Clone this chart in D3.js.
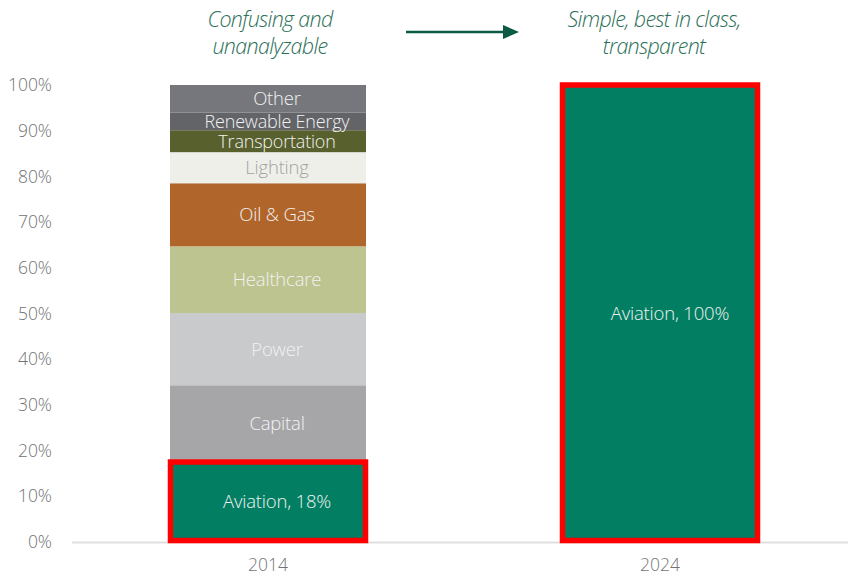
<!DOCTYPE html>
<html>
<head>
<meta charset="utf-8">
<script src="https://cdn.jsdelivr.net/npm/d3@7"></script>
<style>
  body { margin: 0; background: #fff; }
  text { font-family: "Open Sans", "Noto Sans", sans-serif; font-weight: 300; }
</style>
</head>
<body>
<div id="chart"></div>
<script>
// data
var years = ["2014", "2024"];
var segments2014 = ["Aviation", "Capital", "Power", "Healthcare", "Oil & Gas", "Lighting", "Transportation", "Renewable Energy", "Other"];
var values2014 = [17.5, 16.8, 15.8, 14.6, 13.8, 6.8, 4.8, 3.9, 6.0];
var labels2014 = ["Aviation, 18%", "Capital", "Power", "Healthcare", "Oil & Gas", "Lighting", "Transportation", "Renewable Energy", "Other"];
var segments2024 = ["Aviation"];
var values2024 = [100];
var labels2024 = ["Aviation, 100%"];
var yTicks = [0, 10, 20, 30, 40, 50, 60, 70, 80, 90, 100];
var captions = [["Confusing and", "unanalyzable"], ["Simple, best in class,", "transparent"]];

var width = 848;
var height = 577;
var margin = { top: 85, right: 0, bottom: 35, left: 72 };

var colors = d3.scaleOrdinal()
  .domain(["Aviation", "Capital", "Power", "Healthcare", "Oil & Gas", "Lighting", "Transportation", "Renewable Energy", "Other"])
  .range(["#027f62", "#a6a6a8", "#c9cacc", "#bec48f", "#b0652a", "#efefea", "#58602d", "#636468", "#76777c"]);

var svg = d3.select("#chart")
  .append("svg")
  .attr("width", width)
  .attr("height", height);

var x = d3.scaleBand()
  .domain(years)
  .range([margin.left, 856])
  .paddingInner(0.5)
  .paddingOuter(0.25);

var y = d3.scaleLinear()
  .domain([0, 100])
  .range([height - margin.bottom, margin.top]);

// y axis labels only
svg.append("g")
  .attr("transform", "translate(" + (margin.left - 17) + ",0)")
  .call(d3.axisLeft(y).tickValues(yTicks).tickSize(0).tickFormat(function (d) { return d + "%"; }))
  .call(function (g) { g.select(".domain").remove(); })
  .selectAll("text")
  .attr("fill", "#737373")
  .style("font-size", "17.5px");

// x axis
svg.append("line")
  .attr("x1", margin.left)
  .attr("x2", width)
  .attr("y1", y(0) + 0.5)
  .attr("y2", y(0) + 0.5)
  .attr("stroke", "#e0e0e0")
  .attr("stroke-width", 2);

svg.append("g")
  .attr("transform", "translate(0," + (y(0) + 14) + ")")
  .call(d3.axisBottom(x).tickSize(0))
  .call(function (g) { g.select(".domain").remove(); })
  .selectAll("text")
  .attr("fill", "#737373")
  .style("font-size", "17.5px");

function stackBar(year, names, vals, labels, offset) {
  var start = 0;
  var rows = names.map(function (n, i) {
    var r = { name: n, y0: start, y1: start + vals[i], label: labels[i] };
    start += vals[i];
    return r;
  });

  var g = svg.append("g");
  g.selectAll("rect")
    .data(rows)
    .join("rect")
    .attr("x", x(year))
    .attr("width", x.bandwidth())
    .attr("y", function (d) { return y(d.y1); })
    .attr("height", function (d) { return y(d.y0) - y(d.y1); })
    .attr("fill", function (d) { return colors(d.name); });

  // red highlight round the aviation segment
  var av = rows[0];
  g.append("rect")
    .attr("x", x(year) + 0.5)
    .attr("width", x.bandwidth() - 1)
    .attr("y", y(av.y1))
    .attr("height", y(av.y0) - y(av.y1) - 1.5)
    .attr("fill", "none")
    .attr("stroke", "#ff0000")
    .attr("stroke-width", 5.5);

  g.selectAll("text.lab")
    .data(rows)
    .join("text")
    .attr("class", "lab")
    .attr("x", x(year) + x.bandwidth() / 2 + offset)
    .attr("y", function (d) { return (y(d.y0) + y(d.y1)) / 2; })
    .attr("dy", "0.35em")
    .attr("text-anchor", "middle")
    .attr("fill", function (d) { return d.name == "Lighting" ? "#a3a3a3" : "#f2f2f2"; })
    .style("font-size", function (d) { return d.name == "Renewable Energy" || d.name == "Transportation" ? "18px" : "18.5px"; })
    .style("letter-spacing", "-0.2px")
    .text(function (d) { return d.label; });
}

stackBar("2014", segments2014, values2014, labels2014, 9);
stackBar("2024", segments2024, values2024, labels2024, 10);

// captions above the bars
var capX = [270, 654];
captions.forEach(function (c, i) {
  var t = svg.append("text")
    .attr("text-anchor", "middle")
    .attr("fill", "#2b6f58")
    .style("font-size", "21.5px")
    .style("font-style", "italic")
    .style("letter-spacing", "-0.7px");
  c.forEach(function (line, j) {
    t.append("tspan")
      .attr("x", capX[i])
      .attr("y", 27 + j * 27)
      .text(line);
  });
});

// arrow between captions
svg.append("line")
  .attr("x1", 406)
  .attr("x2", 503)
  .attr("y1", 32)
  .attr("y2", 32)
  .attr("stroke", "#0b5a44")
  .attr("stroke-width", 2.5);

svg.append("path")
  .attr("d", "M503,25L519,32L503,39Z")
  .attr("fill", "#0b5a44");
</script>
</body>
</html>
